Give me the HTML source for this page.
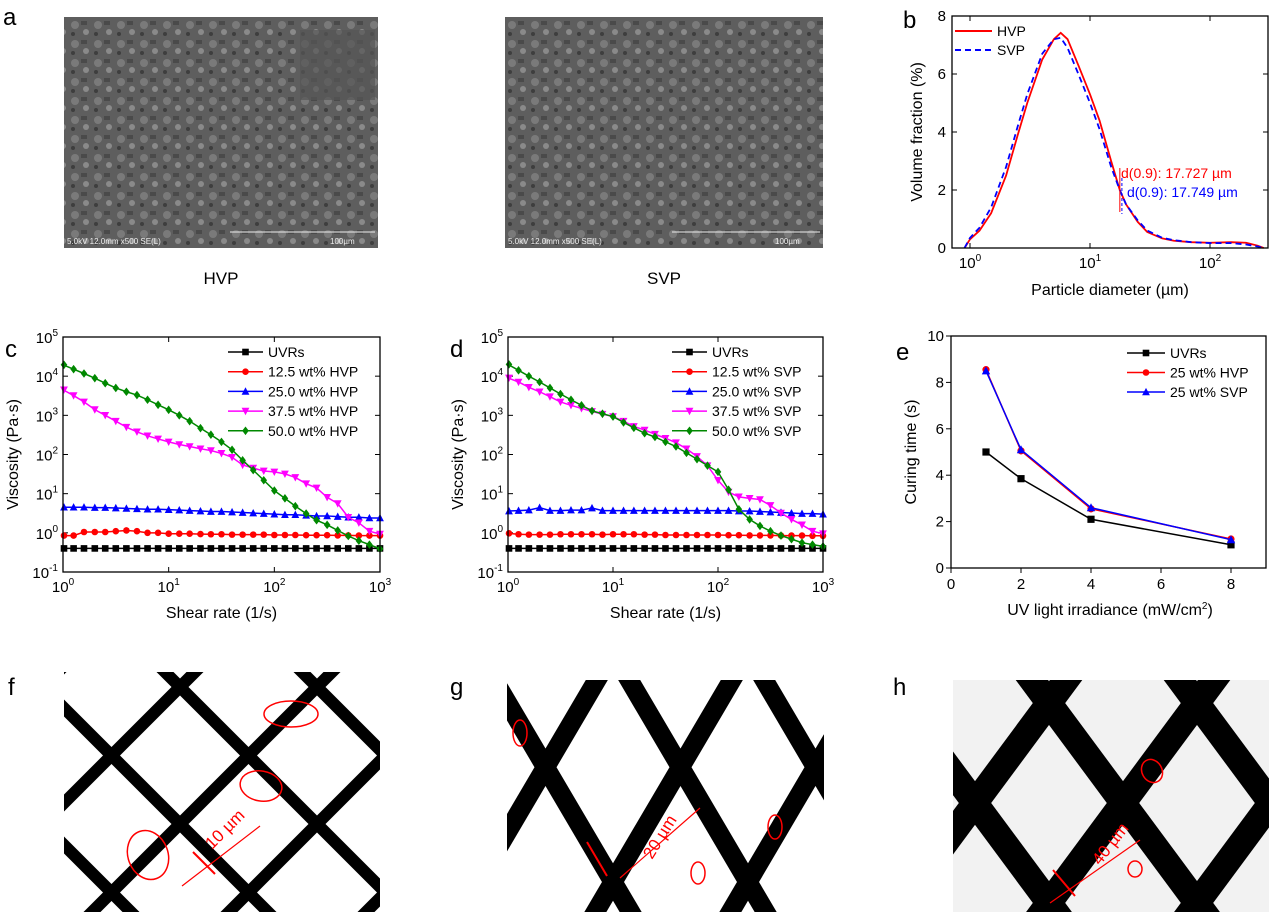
<!DOCTYPE html>
<html><head><meta charset="utf-8"><style>
html,body{margin:0;padding:0;background:#fff;overflow:hidden;width:1269px;height:912px;}
svg{display:block;font-family:"Liberation Sans",Arial,sans-serif;}
</style></head><body>
<svg id="fig" width="1269" height="912" viewBox="0 0 1269 912" xmlns="http://www.w3.org/2000/svg" overflow="hidden">
<defs>
<clipPath id="clipF"><rect x="64" y="672" width="316" height="240"/></clipPath>
<clipPath id="clipG"><rect x="507" y="680" width="317" height="232"/></clipPath>
<clipPath id="clipH"><rect x="953" y="680" width="316" height="232"/></clipPath>
<pattern id="sem" width="23" height="19" patternUnits="userSpaceOnUse">
<rect width="23" height="19" fill="#5e5e5e"/><circle cx="6" cy="6" r="4" fill="#7a7a7a"/><circle cx="17" cy="13" r="3" fill="#8a8a8a"/><rect x="12" y="2" width="6" height="4" fill="#4a4a4a"/><circle cx="4" cy="15" r="2" fill="#3e3e3e"/>
</pattern>
</defs>
<g>
<text x="3" y="25" font-size="24">a</text>
<rect x="64" y="17" width="314" height="231" fill="url(#sem)"/>
<rect x="300" y="30" width="75" height="70" fill="#555" opacity="0.7"/>
<text x="67" y="244" font-size="8" fill="#eee">5.0kV 12.0mm x500 SE(L)</text>
<line x1="230" y1="232" x2="375" y2="232" stroke="#eee"/><text x="330" y="244" font-size="8" fill="#eee">100µm</text>
<text x="221" y="284" font-size="17" text-anchor="middle">HVP</text>
<rect x="505" y="17" width="318" height="231" fill="url(#sem)"/>
<text x="508" y="244" font-size="8" fill="#eee">5.0kV 12.0mm x500 SE(L)</text>
<line x1="672" y1="232" x2="820" y2="232" stroke="#eee"/><text x="775" y="244" font-size="8" fill="#eee">100µm</text>
<text x="664" y="284" font-size="17" text-anchor="middle">SVP</text>
</g>
<g id="meshes"></g>
<g id="charts"></g>
</svg>
<script>
// ---------- Panel b data ----------
const bDiam = [0.9,1.0,1.2,1.5,2,2.5,3,4,5,5.7,6.5,8,10,12,15,17.7,20,25,30,40,50,70,100,150,200,250,280];
const bHVP  = [0,0.3,0.6,1.2,2.5,3.9,5.0,6.5,7.2,7.42,7.2,6.3,5.3,4.4,3.0,2.0,1.5,0.9,0.55,0.33,0.25,0.2,0.18,0.2,0.18,0.08,0];
const bSVP  = [0,0.35,0.7,1.4,2.8,4.2,5.3,6.7,7.2,7.25,6.9,6.0,5.0,4.1,2.8,2.0,1.5,0.95,0.6,0.35,0.27,0.2,0.17,0.17,0.12,0.05,0];
const bYTicks = [0,2,4,6,8];
const bXTicks = [0,1,2];
// ---------- Panels c/d data ----------
const shearRate = [1.0,1.26,1.58,2.0,2.51,3.16,3.98,5.01,6.31,7.94,10,12.6,15.8,20,25.1,31.6,39.8,50.1,63.1,79.4,100,126,158,200,251,316,398,501,631,794,1000];
const cUVR  = [0.4,0.4,0.4,0.4,0.4,0.4,0.4,0.4,0.4,0.4,0.4,0.4,0.4,0.4,0.4,0.4,0.4,0.4,0.4,0.4,0.4,0.4,0.4,0.4,0.4,0.4,0.4,0.4,0.4,0.4,0.4];
const c125  = [0.85,0.85,1.05,1.05,1.05,1.1,1.15,1.1,1.0,1.0,0.95,0.95,0.95,0.93,0.92,0.92,0.9,0.9,0.9,0.9,0.88,0.88,0.88,0.87,0.87,0.87,0.86,0.86,0.85,0.85,0.85];
const c250  = [4.5,4.5,4.5,4.4,4.4,4.3,4.2,4.1,4.0,4.0,3.9,3.8,3.7,3.6,3.5,3.5,3.4,3.3,3.2,3.1,3.0,2.9,2.9,2.8,2.7,2.7,2.6,2.5,2.5,2.4,2.4];
const c375  = [4500,3200,2200,1400,1000,710,500,380,300,250,210,180,160,140,126,107,85,54,45,38,36,32,26,18,14,8.1,5.6,2.5,1.8,1.1,0.93];
const c500  = [19500,15100,11700,8900,6600,5000,4000,3300,2500,1860,1380,1000,710,470,320,210,132,71,40,22,12,7.6,4.8,3.1,2.1,1.6,1.15,0.83,0.63,0.5,0.39];
const dUVR  = [0.4,0.4,0.4,0.4,0.4,0.4,0.4,0.4,0.4,0.4,0.4,0.4,0.4,0.4,0.4,0.4,0.4,0.4,0.4,0.4,0.4,0.4,0.4,0.4,0.4,0.4,0.4,0.4,0.4,0.4,0.4];
const d125  = [0.97,0.92,0.9,0.9,0.9,0.92,0.92,0.92,0.92,0.9,0.92,0.92,0.92,0.9,0.9,0.88,0.88,0.88,0.88,0.88,0.88,0.87,0.87,0.86,0.86,0.86,0.85,0.85,0.85,0.84,0.84];
const d250  = [3.6,3.7,3.8,4.4,3.7,3.7,3.8,3.8,4.3,3.7,3.7,3.7,3.7,3.7,3.7,3.7,3.7,3.7,3.7,3.7,3.7,3.7,3.6,3.6,3.5,3.4,3.3,3.2,3.1,3.1,3.0];
const d375  = [9000,7100,5200,4000,3000,2200,1800,1500,1260,1070,930,710,520,420,330,260,200,140,89,52,22,11,8.3,7.6,7.1,5,3.2,2.2,1.6,1.1,0.95];
const d500  = [20000,14100,10000,7100,5000,3500,2500,1800,1300,1100,930,660,480,350,280,210,160,110,76,52,36,12.6,4,2.2,1.5,1.1,0.85,0.69,0.56,0.5,0.45];
const cdYTicks = [-1,0,1,2,3,4,5];
const cdXTicks = [0,1,2,3];
// ---------- Panel e data ----------
const irradiance = [1,2,4,8];
const eUVR = [5.0,3.85,2.1,1.0];
const eHVP = [8.55,5.05,2.55,1.25];
const eSVP = [8.5,5.1,2.6,1.22];
const eXTicks = [0,2,4,6,8];
const eYTicks = [0,2,4,6,8,10];

const NS="http://www.w3.org/2000/svg";
const charts=document.getElementById('charts');
function el(tag,attrs,parent){const e=document.createElementNS(NS,tag);for(const k in attrs)e.setAttribute(k,attrs[k]);(parent||charts).appendChild(e);return e;}
function txt(x,y,s,attrs,parent){const t=el('text',Object.assign({x:x,y:y},attrs||{}),parent);t.textContent=s;return t;}
function pow10(x,y,exp,anchor,parent,fs){const t=el('text',{x:x,y:y,'font-size':fs||15,'text-anchor':anchor},parent);
 const a=document.createElementNS(NS,'tspan');a.textContent='10';t.appendChild(a);
 const b=document.createElementNS(NS,'tspan');b.setAttribute('dy','-7');b.setAttribute('font-size','10');b.textContent=String(exp);t.appendChild(b);return t;}

function frame(g,L,T,R,B){const r=el('rect',{x:L,y:T,width:R-L,height:B-T,fill:'none',stroke:'#000','stroke-width':1.3},g);
 }

function marker(g,type,x,y,c,s){
 s=s||3.3;let m;
 if(type==='sq')m=el('rect',{x:x-s,y:y-s,width:2*s,height:2*s,fill:c},g);
 else if(type==='ci')m=el('circle',{cx:x,cy:y,r:s,fill:c},g);
 else if(type==='up')m=el('polygon',{points:`${x},${y-s-0.8} ${x-s-0.6},${y+s} ${x+s+0.6},${y+s}`,fill:c},g);
 else if(type==='dn')m=el('polygon',{points:`${x},${y+s+0.8} ${x-s-0.6},${y-s} ${x+s+0.6},${y-s}`,fill:c},g);
 else m=el('polygon',{points:`${x},${y-s-1} ${x+s},${y} ${x},${y+s+1} ${x-s},${y}`,fill:c},g);
 
}

function viscChart(id,L,T,R,B,letter,series,names,lgX){
 const g=el('g',{});
 const sx=v=>L+(Math.log10(v)-0)/3*(R-L);
 const sy=v=>B-(Math.log10(v)+1)/6*(B-T);
 const lab=txt(L-58,T+20,letter,{'font-size':24},g);
 cdYTicks.forEach(e=>{const y=B-(e+1)/6*(B-T);
  el('line',{x1:L,y1:y,x2:L+5,y2:y,stroke:'#000'},g);el('line',{x1:R,y1:y,x2:R-5,y2:y,stroke:'#000'},g);
  const t=pow10(L-5,y+6,e,'end',g);});
 cdXTicks.forEach(e=>{const x=L+e/3*(R-L);
  el('line',{x1:x,y1:B,x2:x,y2:B-5,stroke:'#000'},g);el('line',{x1:x,y1:T,x2:x,y2:T+5,stroke:'#000'},g);
  const t=pow10(x,B+20,e,'middle',g);});
 const colors=['#000','#f00','#00f','#f0f','#080'];const mk=['sq','ci','up','dn','di'];
 series.forEach((arr,i)=>{
  const sg=el('g',{},g);
  el('polyline',{points:arr.map((v,j)=>sx(shearRate[j])+','+sy(v)).join(' '),fill:'none',stroke:colors[i],'stroke-width':1.5},sg);
  arr.forEach((v,j)=>{const x=sx(shearRate[j]);if(x<L+2)return;marker(sg,mk[i],x,sy(v),colors[i]);});
  marker(sg,mk[i],sx(shearRate[0])+1,sy(arr[0]),colors[i]);
  const ly=T+15+i*19.7;
  const lg=el('g',{},g);
  el('line',{x1:lgX,y1:ly,x2:lgX+35,y2:ly,stroke:colors[i],'stroke-width':1.5},lg);marker(lg,mk[i],lgX+17.5,ly,colors[i]);
  txt(lgX+40,ly+5,names[i],{'font-size':14},lg);
 });
 frame(g,L,T,R,B);
 const yt=txt(0,0,'Viscosity (Pa·s)',{'font-size':16,'text-anchor':'middle',transform:`translate(${L-45},${(T+B)/2}) rotate(-90)`},g);
 
 const xt=txt((L+R)/2,B+46,'Shear rate (1/s)',{'font-size':16,'text-anchor':'middle'},g);
 
}
viscChart('chart-c',63,337,380,572,'c',[cUVR,c125,c250,c375,c500],['UVRs','12.5 wt% HVP','25.0 wt% HVP','37.5 wt% HVP','50.0 wt% HVP'],228);
viscChart('chart-d',508,337,823,572,'d',[dUVR,d125,d250,d375,d500],['UVRs','12.5 wt% SVP','25.0 wt% SVP','37.5 wt% SVP','50.0 wt% SVP'],672);

(function(){
 const L=952,T=16,R=1268,B=248;
 const g=el('g',{});
 const sx=v=>970+Math.log10(v)*120;const sy=v=>B-v/8*(B-T);
 const lab=txt(903,28,'b',{'font-size':24},g);
 bYTicks.forEach(v=>{const y=sy(v);el('line',{x1:L,y1:y,x2:L+5,y2:y,stroke:'#000'},g);el('line',{x1:R,y1:y,x2:R-5,y2:y,stroke:'#000'},g);
  const t=txt(L-6,y+5,String(v),{'font-size':15,'text-anchor':'end'},g);});
 bXTicks.forEach(e=>{const x=970+e*120;el('line',{x1:x,y1:B,x2:x,y2:B-5,stroke:'#000'},g);el('line',{x1:x,y1:T,x2:x,y2:T+5,stroke:'#000'},g);
  const t=pow10(x,B+20,e,'middle',g);});
 const h=el('polyline',{points:bDiam.map((d,i)=>sx(d)+','+sy(bHVP[i])).join(' '),fill:'none',stroke:'#f00','stroke-width':1.8},g);
 
 const s=el('polyline',{points:bDiam.map((d,i)=>sx(d)+','+sy(bSVP[i])).join(' '),fill:'none',stroke:'#00f','stroke-width':1.8,'stroke-dasharray':'6,4'},g);
 
 frame(g,L,T,R,B);
 let lg=el('g',{},g);
 el('line',{x1:955,y1:31,x2:992,y2:31,stroke:'#f00','stroke-width':2},lg);txt(997,36,'HVP',{'font-size':14},lg);
 lg=el('g',{},g);
 el('line',{x1:955,y1:50,x2:992,y2:50,stroke:'#00f','stroke-width':2,'stroke-dasharray':'6,4'},lg);txt(997,55,'SVP',{'font-size':14},lg);
 el('line',{x1:sx(17.727),y1:168,x2:sx(17.727),y2:212,stroke:'#f00'},g);
 el('line',{x1:sx(17.749)+2,y1:178,x2:sx(17.749)+2,y2:214,stroke:'#00f','stroke-dasharray':'3,2'},g);
 let a=txt(1121,178,'d(0.9): 17.727 µm',{'font-size':14,fill:'#f00'},g);
 a=txt(1127,197,'d(0.9): 17.749 µm',{'font-size':14,fill:'#00f'},g);
 const yt=txt(0,0,'Volume fraction (%)',{'font-size':16,'text-anchor':'middle',transform:`translate(922,${(T+B)/2}) rotate(-90)`},g);
 
 const xt=txt(1110,295,'Particle diameter (µm)',{'font-size':16,'text-anchor':'middle'},g);
 
})();

(function(){
 const L=951,T=336,R=1266,B=568;
 const g=el('g',{});
 const sx=v=>L+v/9*(R-L);const sy=v=>B-v/10*(B-T);
 const lab=txt(896,360,'e',{'font-size':24},g);
 eYTicks.forEach(v=>{const y=sy(v);el('line',{x1:L,y1:y,x2:L-5,y2:y,stroke:'#000'},g);
  const t=txt(L-7,y+5,String(v),{'font-size':15,'text-anchor':'end'},g);});
 eXTicks.forEach(v=>{const x=sx(v);el('line',{x1:x,y1:B,x2:x,y2:B+5,stroke:'#000'},g);
  const t=txt(x,B+21,String(v),{'font-size':15,'text-anchor':'middle'},g);});
 const cols=['#000','#f00','#00f'],mk=['sq','ci','up'],names=['UVRs','25 wt% HVP','25 wt% SVP'];
 [eUVR,eHVP,eSVP].forEach((arr,i)=>{
  const sg=el('g',{},g);
  el('polyline',{points:arr.map((v,j)=>sx(irradiance[j])+','+sy(v)).join(' '),fill:'none',stroke:cols[i],'stroke-width':1.5},sg);
  arr.forEach((v,j)=>marker(sg,mk[i],sx(irradiance[j]),sy(v),cols[i],3.6));
  const ly=353+i*19.5;const lg=el('g',{},g);
  el('line',{x1:1127,y1:ly,x2:1165,y2:ly,stroke:cols[i],'stroke-width':1.5},lg);marker(lg,mk[i],1146,ly,cols[i]);
  txt(1170,ly+5,names[i],{'font-size':14},lg);
 });
 frame(g,L,T,R,B);
 const yt=txt(0,0,'Curing time (s)',{'font-size':16,'text-anchor':'middle',transform:`translate(916,${(T+B)/2}) rotate(-90)`},g);
 
 const xt=txt(1110,615,'UV light irradiance (mW/cm',{'font-size':16,'text-anchor':'middle'},g);
 const sup=document.createElementNS(NS,'tspan');sup.setAttribute('dy','-6');sup.setAttribute('font-size','10');sup.textContent='2';xt.appendChild(sup);
 const cl=document.createElementNS(NS,'tspan');cl.setAttribute('dy','6');cl.textContent=')';xt.appendChild(cl);
 
})();

const meshes=document.getElementById('meshes');
function mesh(name,clip,rect,nx,ny,H,s,w,bg){
 const g=el('g',{'clip-path':`url(#${clip})`},meshes);
 el('rect',{x:rect[0],y:rect[1],width:rect[2],height:rect[3],fill:bg},g);
 for(let k=-5;k<=5;k++){const x0=nx+k*H;
  el('line',{x1:x0-250,y1:ny-250*s,x2:x0+250,y2:ny+250*s,stroke:'#000','stroke-width':w},g);
  el('line',{x1:x0+250,y1:ny-250*s,x2:x0-250,y2:ny+250*s,stroke:'#000','stroke-width':w},g);}
 return g;
}
mesh('mesh-image-f','clipF',[64,672,316,240],180,687,137,1.0,12,'#fff');
mesh('mesh-image-g','clipG',[507,680,317,232],613,882,135,1.7,19,'#fff');
mesh('mesh-image-h','clipH',[953,680,316,232],1123,803,148,1.35,26,'#f2f2f2');
function lbl(x,y,s){const t=txt(x,y,s,{'font-size':24},meshes);}
lbl(8,695,'f');lbl(450,695,'g');lbl(893,695,'h');
function ell(cx,cy,rx,ry,rot){const e=el('ellipse',{cx:cx,cy:cy,rx:rx,ry:ry,fill:'none',stroke:'#f00','stroke-width':1.5,transform:`rotate(${rot} ${cx} ${cy})`},meshes);
 }
ell(291,714,27,13,0);ell(261,786,21,15,10);ell(148,855,20,25,-20);
ell(520,733,7,13,0);ell(775,827,7,12,0);ell(698,873,7,11,0);
ell(1152,771,10,12,-30);ell(1135,869,7,8,0);
function scale(x,y,s,rot){const t=txt(x,y,s,{'font-size':17,fill:'#f00',transform:`rotate(${rot} ${x} ${y})`},meshes);
 }
scale(212,850,'10 µm',-45);scale(652,860,'20 µm',-58);scale(1100,866,'40 µm',-52);
[[182,886,260,826],[620,878,700,808],[1050,903,1140,840]].forEach(a=>{const l=el('line',{x1:a[0],y1:a[1],x2:a[2],y2:a[3],stroke:'#f00','stroke-width':1.2},meshes);
 });
[[193,852,215,874],[587,842,607,876],[1053,870,1075,896]].forEach(a=>{const l=el('line',{x1:a[0],y1:a[1],x2:a[2],y2:a[3],stroke:'#f00','stroke-width':2},meshes);
 });
</script>
</body></html>
